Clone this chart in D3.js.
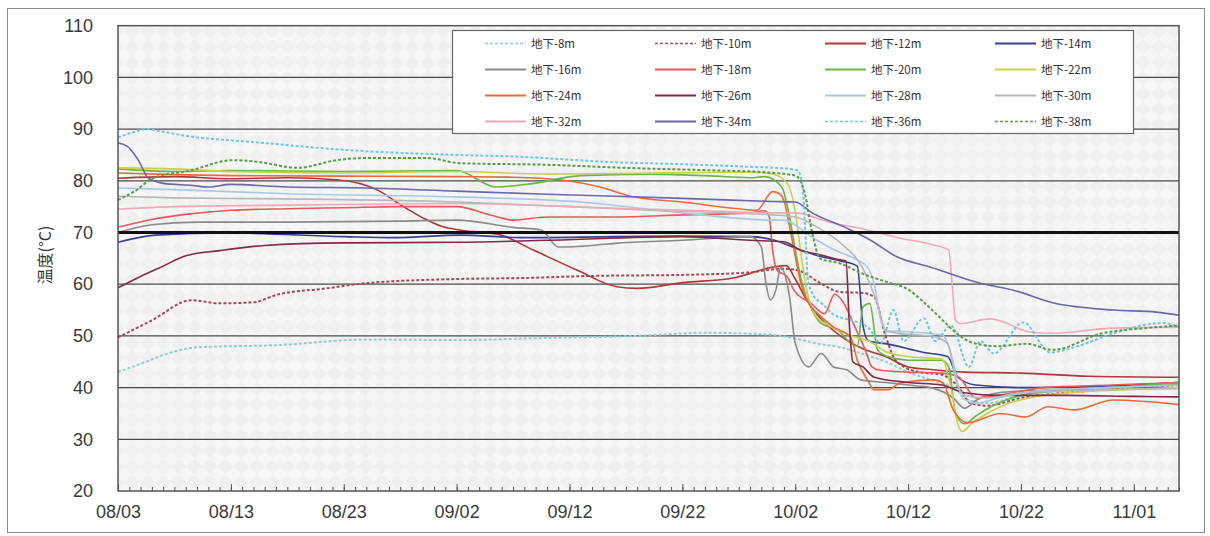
<!DOCTYPE html>
<html>
<head>
<meta charset="utf-8">
<script src="https://cdn.jsdelivr.net/npm/d3@7"></script>
<style>
  body { margin: 0; background: #fff; }
  svg { display: block; }
</style>
</head>
<body>
<svg id="chart"></svg>
<script>
// time range and ticks
const startDate = '2010/08/03';
const endDate = '2010/11/05';
const tickLabels = ['08/03', '08/13', '08/23', '09/02', '09/12', '09/22', '10/02', '10/12', '10/22', '11/01'];
const yTicks = [20, 30, 40, 50, 60, 70, 80, 90, 100, 110];
const limitValue = 70;

const seriesNames = ['地下-8m', '地下-10m', '地下-12m', '地下-14m', '地下-16m', '地下-18m', '地下-20m', '地下-22m',
  '地下-24m', '地下-26m', '地下-28m', '地下-30m', '地下-32m', '地下-34m', '地下-36m', '地下-38m'];
const seriesColors = ['#8ecfcc', '#a4495a', '#b03838', '#3a3f8f', '#8a8a8a', '#e85a5a', '#6bb545', '#c5d24a',
  '#ec6a3a', '#84284a', '#a9c8e6', '#b8b8b8', '#f2a8b8', '#6a68a8', '#6ec8d8', '#5a9a48'];
const dashedSeries = ['地下-8m', '地下-10m', '地下-36m', '地下-38m'];

// [days since 08/03, temperature]
const d8 = [[0,43],[2,44.6],[5,47],[7,47.8],[14,48.2],[22,49.3],[30,49.2],[38,49.6],[46,50],[52,50.6],[58,50.2],[60,49.5],
  [62,48.5],[64,47.8],[66,46.5],[68,45],[70,43],[72,41.5],[74,40],[75.5,37.5],[77,37],[80,38.5],[84,39.5],[88,40],[94,41]];
const d10 = [[0,49.7],[3,53],[6.5,56.9],[9,56.3],[12,56.5],[14,57.9],[18.5,59.2],[22,60.2],[30,61],[36,61.2],[42,61.6],
  [50,61.8],[56,62.3],[59,63],[60.5,62.5],[62,60.5],[64,58.5],[66,58.3],[67,57.5],[68,50],[69,45],[71,43],[73,42.5],
  [74.5,40],[75.5,37],[77,36.5],[80,38],[85,39.2],[90,40],[94,40.5]];
const d12 = [[0,80.5],[5,80.8],[10,80.4],[15,80.6],[19.4,80.2],[23,78.2],[25.3,75],[27.4,72.4],[28.8,71.1],[30.3,70.5],
  [33.9,69.5],[36.8,66.6],[40.7,62.7],[44.2,59.5],[46,59.2],[50,60.3],[54.5,61.2],[58,63.3],[59.2,63.6],[60,61],[61,57],
  [62,54],[64,50],[66,47.5],[68,46],[70,44],[72,43.5],[75,43],[80,42.8],[86,42.2],[94,42]];
const d14 = [[0,68.1],[3.3,69.5],[9.8,69.9],[20,69.2],[24.5,69],[30.3,69.5],[36,69],[44,69.2],[50,69.3],[56,69.2],
  [58,68.6],[60,67],[62,65.5],[64,64.5],[65.5,63.5],[66,52],[66.5,49],[68,48.5],[71.4,46.8],[73.5,46],[74.4,42],
  [76,40.5],[80,40],[86,40.2],[94,41]];
const d16 = [[0,70],[3,71.5],[7,72],[15,72],[25,72.2],[30,72.4],[35,71],[37.5,70.5],[39,67.2],[42,67.5],[44,67.9],
  [50,68.5],[56,69.2],[57,67.2],[57.4,60.2],[57.8,57],[58.3,59],[58.7,63.2],[59.5,57.5],[60,48.6],[61.2,44],[62.3,46.6],
  [63.4,44],[64.6,43.4],[65.8,41.5],[68,41],[70,40.5],[72,40],[74,38],[75,36],[76,37.5],[78,39],[82,39.5],[88,40],[94,40.5]];
const d18 = [[0,71],[3,72.5],[6,73.5],[10,74.3],[15,74.6],[20,74.8],[25,75],[30,75],[33,73.4],[35,72.4],[38,73],[44,73],
  [50,73.4],[56,73.8],[57.3,74.2],[57.7,73],[58,66.6],[58.4,62.7],[59.3,61.4],[59.9,58.8],[61.4,56.3],[62.6,54.3],
  [63.5,58.1],[64.1,57],[65.3,51.7],[66.2,47.3],[66.8,44],[67.4,43.4],[70,43],[73,42.8],[74.5,42],[76,38],[78,38.5],
  [82,40],[88,40.5],[94,41]];
const d20 = [[0,82.3],[5,81.8],[10,82],[20,81.8],[30,82],[33.5,78.8],[36.8,79.5],[41,81],[47,81.3],[52,81],[56,80.6],
  [57.3,80.8],[58.8,78.8],[59.5,73],[60,66.7],[60.6,60.2],[61.5,55],[62.3,52.4],[63.8,51.1],[64.9,48.6],[65.5,48],
  [66,55.6],[66.6,56.3],[67.3,47.3],[68.2,46],[70,45.3],[73,45.3],[73.6,44],[74.2,35.1],[75,33],[76,34.5],[77.5,36.5],
  [80,38.5],[84,39.5],[88,40],[94,41]];
const d22 = [[0,82.5],[5,82.3],[10,81.8],[20,81.5],[30,81.8],[38,81.3],[44,81.4],[52,81.6],[56,81.7],[58,81.3],
  [59.3,79.5],[60,74],[60.5,66],[61,59],[61.8,54],[63,52],[65,50],[66.5,49],[68,47],[70,46],[73,45.5],[73.8,40],
  [74.4,33],[74.8,31.5],[75.6,33],[77,35],[79,37],[82,38.5],[88,39.5],[94,40]];
const d24 = [[0,81.5],[5,81.2],[10,81],[20,80.9],[30,80.8],[35,80.7],[39.5,80.1],[42.7,78.8],[45.6,76.9],[50,75.9],
  [54.5,74.7],[56.6,74.3],[58,77.9],[58.6,77.5],[59,76.2],[59.6,70],[60.5,60.2],[61.4,55.6],[62,54.3],[63.4,51.7],
  [64.9,49.8],[65.5,45.3],[66.4,41.5],[67,39.6],[68.2,39.6],[69.3,40.9],[72.3,41.5],[73.1,40.9],[74,35.7],[75.3,33.2],
  [78.2,35],[80.4,34.3],[82.4,36.3],[84.7,35.7],[88.2,37.6],[94,36.7]];
const d26 = [[0,59.3],[2,61.5],[4,63.5],[6,65.5],[9,66.5],[13,67.5],[20,68],[30,68.1],[38,68.5],[50,69.2],[56,68.5],
  [59,68.2],[60.5,66.5],[62,65.8],[64,64.7],[64.5,64.5],[64.8,52],[65.1,45],[66,44],[67,42],[70,41],[73,40.5],[75,39],
  [78,38.5],[84,38.5],[90,38.3],[94,38.2]];
const d28 = [[0,78.6],[5,78.3],[15,77.5],[30,76.9],[41,75.9],[50,73.8],[58,72.4],[59,72.4],[61.4,69.2],[63.4,66.7],
  [65.5,64.7],[66.4,63.3],[67,60],[67.6,53],[68.2,51],[70,50.8],[73,50.2],[73.6,48],[74,44.8],[74.8,38],[76,37],[78,38],
  [82,39.5],[88,40],[94,40.5]];
const d30 = [[0,77],[5,76.7],[15,76.5],[30,75.9],[40,75],[47,74.3],[58,73.4],[60,73],[62,71],[64,68],[66,63],[67.3,56],
  [68,51],[70,50.3],[72,50],[73.5,48.5],[74.3,41],[75,38.5],[77,38],[80,39],[86,39.5],[94,39.8]];
const d32 = [[0,74.5],[5,75],[15,75.3],[30,75.6],[44,74.7],[52,74.2],[58,73.8],[60,73.8],[63,72],[66.4,70.5],[69.3,68.9],
  [72.3,67.6],[73.6,66.6],[73.9,60],[74.2,53],[74.6,52.4],[77.3,53.3],[80.9,50.7],[82.5,50.5],[88.2,51.5],[94,51.7]];
const d34 = [[0,87.3],[0.8,86.7],[1.8,84],[2.7,80.5],[4,79.5],[6.6,79.1],[8,78.8],[10,79.3],[15,78.8],[22,78.6],[30,78],
  [38,77.4],[50,76.6],[58,76],[60,75.9],[61.5,73.8],[64.5,70.9],[66.6,68.6],[69,65.3],[72,63.3],[76.4,60.2],[79.4,58.8],
  [83,56.3],[88.2,55],[92,54.6],[94,54]];
const d36 = [[0,88.4],[1.5,89.5],[2.5,90],[4,89.5],[6,88.7],[12,87.5],[20,86],[30,85],[35,84.7],[44,83.6],[50,83.2],
  [56,82.7],[59,82.4],[60.2,82],[60.6,79.6],[60.9,70],[61.1,61.4],[61.5,58.3],[62.5,56],[63.5,54],[65,53],[66.5,51.5],
  [67.6,48.6],[68.7,55],[69.6,49],[71.4,53.4],[72.4,49],[73.8,52],[75.4,44],[76.4,49],[77.6,46.6],[80.2,52.6],
  [82.6,46.8],[85,48],[88.2,50.5],[92.6,52.5],[94,51.7]];
const d38 = [[0,76.3],[1.5,78],[3.1,80.5],[6.4,82],[10.2,84],[12.6,83.6],[15.9,82.5],[19.4,84],[21.7,84.4],[27.4,84.4],
  [30.3,83.4],[38,83.1],[45,82.5],[53,82],[57,81.7],[60,81],[60.8,78],[61.5,70],[62.2,65],[64,64],[66,62],[68,60.5],
  [70,59],[71.4,56.5],[72.8,53.6],[74.3,50.5],[75.8,48.6],[78,48],[80.5,48.5],[82.8,47.3],[87.2,50.5],[91,51.5],[94,52]];

const seriesValues = [d8, d10, d12, d14, d16, d18, d20, d22, d24, d26, d28, d30, d32, d34, d36, d38];

const width = 1210, height = 536;
const margin = { top: 25.7, right: 31, bottom: 45, left: 118 };
const fontTick = '"Liberation Sans", Arial, sans-serif';
const fontCJK = '"Noto Sans CJK JP", "Noto Sans", sans-serif';

const parse = d3.utcParse('%Y/%m/%d');
const t0 = parse(startDate);
const toDate = d => new Date(t0.getTime() + d * 864e5);
const tickDates = tickLabels.map(s => parse('2010/' + s));

const svg = d3.select('#chart').attr('width', width).attr('height', height);

// outer frame
svg.append('rect').attr('x', 7.5).attr('y', 8.5).attr('width', 1197).attr('height', 524)
  .attr('fill', '#fff').attr('stroke', '#8a8a8a').attr('stroke-width', 1);

const x = d3.scaleUtc().domain([t0, parse(endDate)]).range([margin.left, width - margin.right]);
const y = d3.scaleLinear().domain([20, 110]).range([height - margin.bottom, margin.top]);

// mottled plot background (scanned paper look)
const defs = svg.append('defs');
const pat = defs.append('pattern').attr('id', 'paper').attr('patternUnits', 'userSpaceOnUse')
  .attr('width', 22).attr('height', 22).attr('patternTransform', 'rotate(45)');
pat.append('rect').attr('width', 22).attr('height', 22).attr('fill', '#f0f0f0');
pat.append('rect').attr('width', 11).attr('height', 11).attr('fill', '#f6f6f6');
pat.append('rect').attr('x', 11).attr('y', 11).attr('width', 11).attr('height', 11).attr('fill', '#f6f6f6');

svg.append('rect')
  .attr('x', x.range()[0]).attr('y', y(110))
  .attr('width', x.range()[1] - x.range()[0]).attr('height', y(20) - y(110))
  .attr('fill', 'url(#paper)');

// gridlines
svg.append('g').selectAll('line').data(yTicks.filter(v => v > 20 && v < 110)).join('line')
  .attr('x1', x.range()[0]).attr('x2', x.range()[1])
  .attr('y1', d => y(d)).attr('y2', d => y(d))
  .attr('stroke', '#4a4a4a').attr('stroke-width', 1.3);

// series
const line = d3.line()
  .x(d => x(toDate(d[0])))
  .y(d => y(d[1]))
  .curve(d3.curveMonotoneX);

svg.append('g').selectAll('path').data(seriesValues).join('path')
  .attr('d', line)
  .attr('fill', 'none')
  .attr('stroke', (d, i) => seriesColors[i])
  .attr('stroke-width', (d, i) => dashedSeries.includes(seriesNames[i]) ? 2 : 1.6)
  .attr('stroke-dasharray', (d, i) => dashedSeries.includes(seriesNames[i]) ? '3,2' : null);

// limit line at 70
svg.append('line')
  .attr('x1', x.range()[0]).attr('x2', x.range()[1])
  .attr('y1', y(limitValue)).attr('y2', y(limitValue))
  .attr('stroke', '#111').attr('stroke-width', 3);

// plot border
svg.append('rect')
  .attr('x', x.range()[0]).attr('y', y(110))
  .attr('width', x.range()[1] - x.range()[0]).attr('height', y(20) - y(110))
  .attr('fill', 'none').attr('stroke', '#555').attr('stroke-width', 1.5);

// x axis: day ticks, major ticks, labels
const xAxisG = svg.append('g').attr('transform', `translate(0,${y(20)})`);
xAxisG.append('g')
  .call(d3.axisBottom(x).ticks(d3.utcDay.every(1)).tickSize(-4).tickFormat(''))
  .call(g => g.select('.domain').remove())
  .selectAll('line').attr('stroke', '#555');
xAxisG.append('g')
  .call(d3.axisBottom(x).tickValues(tickDates).tickSize(-7).tickPadding(14).tickFormat(d3.utcFormat('%m/%d')))
  .call(g => g.select('.domain').remove())
  .call(g => g.selectAll('line').attr('stroke', '#555'))
  .call(g => g.selectAll('text').attr('font-family', fontTick).attr('font-size', 18).attr('fill', '#3a3a3a')
    .attr('y', 14).attr('dy', '0.71em'));

// y axis labels
svg.append('g').attr('transform', `translate(${x.range()[0]},0)`)
  .call(d3.axisLeft(y).tickValues(yTicks).tickSize(0).tickPadding(25))
  .call(g => g.select('.domain').remove())
  .call(g => g.selectAll('text').attr('font-family', fontTick).attr('font-size', 18).attr('fill', '#3a3a3a'));

svg.append('text')
  .attr('transform', 'translate(51,255) rotate(-90)')
  .attr('text-anchor', 'middle')
  .attr('font-family', fontCJK).attr('font-size', 16).attr('fill', '#333')
  .text('温度(°C)');

// legend
const legend = svg.append('g');
legend.append('rect').attr('x', 452.5).attr('y', 30.5).attr('width', 681).attr('height', 103)
  .attr('fill', '#fff').attr('stroke', '#666').attr('stroke-width', 1.2);

const items = legend.selectAll('g.item').data(seriesNames).join('g')
  .attr('class', 'item')
  .attr('transform', (d, i) => `translate(${485 + (i % 4) * 170},${43.5 + Math.floor(i / 4) * 26})`);

items.append('line').attr('x1', 0).attr('x2', 41).attr('y1', 0).attr('y2', 0)
  .attr('stroke', (d, i) => seriesColors[i])
  .attr('stroke-width', d => dashedSeries.includes(d) ? 1.6 : 2)
  .attr('stroke-dasharray', d => dashedSeries.includes(d) ? '3,2' : null);

items.append('text').attr('x', 46).attr('y', 0).attr('dy', '0.35em')
  .attr('font-family', fontCJK).attr('font-size', 11.5).attr('fill', '#333')
  .text(d => d);
</script>
</body>
</html>
